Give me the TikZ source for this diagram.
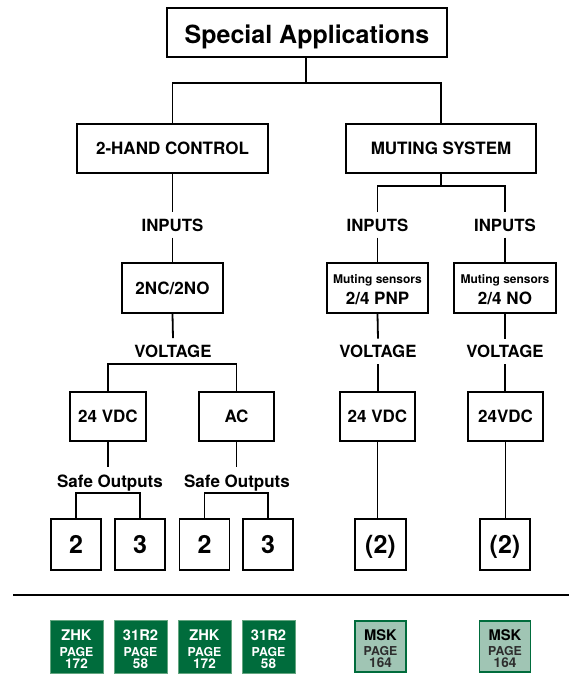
\documentclass[tikz,border=0pt]{standalone}
\usepackage{fontspec}
\setmainfont{TeX Gyre Heros}
\newcommand{\myfs}[1]{\fontsize{#1}{#1}\selectfont\bfseries}
\definecolor{gdark}{RGB}{0,108,60}
\definecolor{glight}{RGB}{160,197,180}
\definecolor{gedge}{RGB}{100,165,128}
\definecolor{gtext}{RGB}{45,45,45}
\begin{document}
\begin{tikzpicture}[x=1pt,y=-1pt,
  bx/.style={draw, line width=1.8pt, inner sep=0pt, text depth=0pt},
  f17/.style={font=\myfs{17}, text height=12.2pt},
  f25/.style={font=\myfs{25}, text height=18pt},
  lbl/.style={inner xsep=0pt, inner ysep=6.5pt, text height=12.1pt, text depth=0pt, anchor=base, font=\myfs{16.8}},
  txt/.style={inner sep=0pt, anchor=base},
  ln/.style={line width=1.8pt},
  gbox/.style={fill=gdark, draw=gedge, line width=0.6pt, minimum width=53pt, minimum height=53pt, inner sep=0pt},
  lbox/.style={fill=glight, draw=gdark, line width=1.8pt, minimum width=51pt, minimum height=51pt, inner sep=0pt},
]
\useasboundingbox (0,0) rectangle (569,675);

% top level
\node[bx, minimum width=280pt, minimum height=49pt, font=\myfs{25}, text height=21.6pt] (title) at (307,32.5) {Special Applications};
\node[bx, f17, minimum width=191pt, minimum height=49pt] (hand) at (172.5,148.5) {2-HAND CONTROL};
\node[bx, f17, minimum width=190pt, minimum height=49pt] (mut) at (441,148.5) {MUTING SYSTEM};
\coordinate (j0) at (306,83);
\draw[ln] (title.south -| j0) -- (j0);
\draw[ln] (hand.north) |- (j0) -| (mut.north);

% 2-hand branch
\node[lbl] (in1) at (172.5,231) {INPUTS};
\node[bx, f17, minimum width=101pt, minimum height=50pt] (nc) at (172.5,288) {2NC/2NO};
\node[lbl] (vo1) at (173,357) {VOLTAGE};
\draw[ln] (hand.south) -- (in1.north);
\draw[ln] (in1.south) -- (nc.north);
\draw[ln] (nc.south) -- (vo1.north);
\node[bx, f17, minimum width=76pt, minimum height=49pt] (v1) at (108,416.5) {24 VDC};
\node[bx, f17, minimum width=75pt, minimum height=49pt] (v2) at (236.5,416.5) {AC};
\coordinate (j1) at (172.5,364);
\draw[ln] (v1.north) |- (j1) -| (v2.north);
\node[lbl, font=\myfs{17}, inner ysep=7.5pt] (so1) at (110,487) {Safe Outputs};
\node[lbl, font=\myfs{17}, inner ysep=7.5pt] (so2) at (237,487) {Safe Outputs};
\draw[ln] (v1.south) -- (v1.south |- so1.north);
\draw[ln] (v2.south) -- (v2.south |- so2.north);
\node[bx, f25, minimum width=50pt, minimum height=51pt] (o1) at (76,544.5) {2};
\node[bx, f25, minimum width=50pt, minimum height=51pt] (o2) at (140,544.5) {3};
\node[bx, f25, minimum width=50pt, minimum height=51pt] (o3) at (204.5,544.5) {2};
\node[bx, f25, minimum width=50pt, minimum height=51pt] (o4) at (268,544.5) {3};
\coordinate (j2) at (108,493);
\coordinate (j3) at (236,493);
\draw[ln] (o1.north) |- (j2) -| (o2.north);
\draw[ln] (o3.north) |- (j3) -| (o4.north);

% muting branch
\coordinate (j4) at (441,186);
\draw[ln] (mut.south) -- (j4);
\node[lbl] (in2) at (377.5,231) {INPUTS};
\node[lbl] (in3) at (505,231) {INPUTS};
\draw[ln] (in2.north) |- (j4) -| (in3.north);
\node[bx, minimum width=101pt, minimum height=50pt] (ms1) at (377.5,288) {};
\node[txt, font=\myfs{12}] (ms1a) at (377.5,283.8) {Muting sensors};
\node[txt, font=\myfs{17}] (ms1b) at (377.5,304.2) {2/4 PNP};
\node[bx, minimum width=102pt, minimum height=50pt] (ms2) at (505,288) {};
\node[txt, font=\myfs{12}] (ms2a) at (505,283.8) {Muting sensors};
\node[txt, font=\myfs{17}] (ms2b) at (505,304.2) {2/4 NO};
\draw[ln] (in2.south) -- (ms1.north);
\draw[ln] (in3.south) -- (ms2.north);
\node[lbl] (vo2) at (378,357.5) {VOLTAGE};
\node[lbl] (vo3) at (505,357.5) {VOLTAGE};
\draw[ln] (ms1.south) -- (vo2.north);
\draw[ln] (ms2.south) -- (vo3.north);
\node[bx, f17, minimum width=75pt, minimum height=49pt] (v3) at (377.5,416.5) {24 VDC};
\node[bx, f17, minimum width=75pt, minimum height=49pt] (v4) at (505.5,416.5) {24VDC};
\draw[ln] (vo2.south) -- (vo2.south |- v3.north);
\draw[ln] (vo3.south) -- (vo3.south |- v4.north);
\node[bx, f25, minimum width=51pt, minimum height=51pt] (o5) at (380.5,544.5) {(2)};
\node[bx, f25, minimum width=50pt, minimum height=51pt] (o6) at (505,544.5) {(2)};
\draw[ln] (v3.south) -- (v3.south |- o5.north);
\draw[ln] (v4.south) -- (v4.south |- o6.north);

% separator
\coordinate (s1) at (13,595);
\coordinate (s2) at (569,595);
\draw[line width=2.5pt] (s1) -- (s2);

% catalogue references
\foreach \x/\t/\n/\i in {76.5/ZHK/172/1, 140.5/31R2/58/2, 204.5/ZHK/172/3, 268.5/31R2/58/4} {
  \node[gbox] (g\i) at (\x,646.5) {};
  \node[txt, font=\myfs{14.7}, text=white] (g\i-a) at (\x,640.6) {\t};
  \node[txt, font=\myfs{12.3}, text=white] (g\i-b) at (\x,656) {PAGE};
  \node[txt, font=\myfs{13.5}, text=white] (g\i-c) at (\x,668.2) {\n};
}
\foreach \x/\i in {380.5/5, 505/6} {
  \node[lbox] (g\i) at (\x,646.5) {};
  \node[txt, font=\myfs{14.7}, text=black] (g\i-a) at (\x,640.6) {MSK};
  \node[txt, font=\myfs{12.3}, text=gtext] (g\i-b) at (\x,655.5) {PAGE};
  \node[txt, font=\myfs{13.5}, text=gtext] (g\i-c) at (\x,667.5) {164};
}
\end{tikzpicture}
\end{document}
